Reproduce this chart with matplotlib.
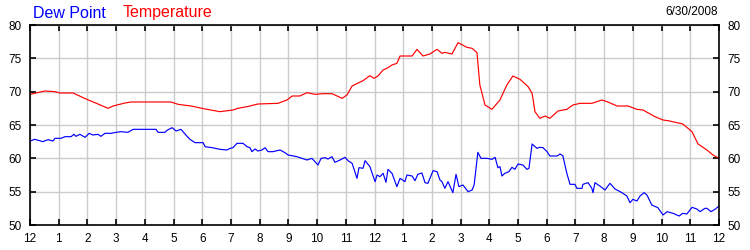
import matplotlib
matplotlib.use("Agg")
import matplotlib.pyplot as plt

plt.rcParams["font.family"] = ["Liberation Sans", "DejaVu Sans"]

# hours after midnight, 6/30/2008
temp_hours = [0.00, 0.52, 0.87, 1.04, 1.50, 1.95, 2.26, 2.72, 2.89, 3.31, 3.52, 4.91,
              5.16, 5.61, 6.10, 6.62, 7.07, 7.24, 7.56, 7.94, 8.64, 8.95, 9.13, 9.40,
              9.65, 9.93, 10.21, 10.52, 10.87, 11.04, 11.22, 11.60, 11.84, 11.98, 12.12,
              12.30, 12.47, 12.61, 12.78, 12.89, 13.31, 13.48, 13.69, 13.93, 14.18, 14.35,
              14.45, 14.70, 14.91, 15.22, 15.40, 15.57, 15.67, 15.85, 16.09, 16.37, 16.61,
              16.82, 17.07, 17.35, 17.49, 17.59, 17.76, 17.94, 18.11, 18.39, 18.70, 18.91,
              19.16, 19.57, 19.92, 20.10, 20.45, 20.83, 21.14, 21.35, 21.77, 22.05, 22.22,
              22.64, 22.74, 23.06, 23.27, 23.58, 23.79, 24.00]
temperature = [69.6, 70.1, 70.0, 69.8, 69.8, 68.9, 68.35, 67.5, 67.85, 68.3, 68.45, 68.45,
               68.1, 67.85, 67.4, 67.0, 67.25, 67.5, 67.75, 68.15, 68.25, 68.75, 69.35, 69.35,
               69.85, 69.6, 69.7, 69.7, 69.0, 69.5, 70.85, 71.65, 72.4, 72.0, 72.35,
               73.25, 73.6, 74.0, 74.25, 75.35, 75.35, 76.35, 75.35, 75.65, 76.35, 75.75,
               75.9, 75.65, 77.35, 76.65, 76.5, 75.85, 71.0, 68.0, 67.35, 68.75, 71.0,
               72.35, 71.85, 70.75, 69.75, 67.0, 66.0, 66.35, 66.0, 67.1, 67.35, 68.0,
               68.25, 68.25, 68.75, 68.5, 67.85, 67.85, 67.35, 67.25, 66.25, 65.75, 65.65,
               65.25, 65.15, 64.0, 62.15, 61.25, 60.5, 60.0]

dew_hours = [0.00, 0.17, 0.45, 0.63, 0.80, 0.87, 1.08, 1.22, 1.43, 1.53, 1.60, 1.74, 1.92,
             2.06, 2.19, 2.37, 2.47, 2.61, 2.82, 3.00, 3.17, 3.41, 3.59, 4.39, 4.46, 4.70,
             4.77, 4.95, 5.09, 5.26, 5.43, 5.57, 5.75, 6.03, 6.10, 6.34, 6.62, 6.86, 6.97,
             7.07, 7.21, 7.42, 7.56, 7.66, 7.73, 7.84, 7.94, 8.08, 8.19, 8.29, 8.46, 8.71,
             8.88, 8.99, 9.30, 9.47, 9.65, 9.82, 10.03, 10.14, 10.28, 10.38, 10.52, 10.62,
             10.80, 10.97, 11.08, 11.22, 11.39, 11.46, 11.60, 11.67, 11.84, 12.02, 12.09,
             12.19, 12.30, 12.40, 12.47, 12.61, 12.78, 12.89, 13.06, 13.13, 13.31, 13.41,
             13.51, 13.65, 13.76, 13.86, 14.04, 14.18, 14.28, 14.35, 14.45, 14.56, 14.73,
             14.84, 14.94, 15.08, 15.26, 15.40, 15.47, 15.60, 15.71, 15.92, 16.09, 16.20,
             16.30, 16.37, 16.44, 16.54, 16.68, 16.79, 16.89, 17.00, 17.17, 17.31, 17.38,
             17.49, 17.66, 17.76, 17.87, 18.01, 18.11, 18.36, 18.46, 18.56, 18.70, 18.81,
             18.98, 19.05, 19.23, 19.26, 19.44, 19.57, 19.61, 19.68, 19.85, 20.03, 20.20,
             20.38, 20.62, 20.79, 20.90, 21.00, 21.14, 21.25, 21.39, 21.49, 21.66, 21.87,
             22.05, 22.19, 22.40, 22.61, 22.74, 22.88, 23.06, 23.23, 23.34, 23.51, 23.58,
             23.72, 23.86, 24.00]
dew_point = [62.6, 62.85, 62.5, 62.8, 62.6, 63.0, 63.0, 63.25, 63.25, 63.6, 63.3, 63.6, 63.15,
             63.75, 63.5, 63.6, 63.3, 63.75, 63.75, 63.9, 64.0, 63.9, 64.35, 64.35, 63.9, 63.9,
             64.2, 64.6, 64.1, 64.35, 63.5, 62.85, 62.35, 62.35, 61.75, 61.6, 61.35, 61.25, 61.5,
             61.6, 62.25, 62.25, 61.75, 61.6, 61.0, 61.4, 61.1, 61.25, 61.6, 61.0, 61.0, 61.25,
             60.85, 60.5, 60.25, 60.0, 59.75, 60.0, 59.0, 60.0, 60.1, 59.9, 60.25, 59.4,
             59.75, 60.15, 59.65, 59.25, 57.0, 58.6, 58.5, 59.65, 58.75, 56.5, 57.5,
             57.25, 57.75, 56.4, 58.35, 57.75, 55.75, 57.0, 56.5, 57.5, 57.35, 56.65,
             57.6, 57.8, 56.35, 56.25, 58.15, 58.0, 56.75, 56.5, 55.5, 56.5, 54.85,
             57.6, 55.75, 56.0, 55.0, 55.25, 56.0, 60.9, 60.0, 60.0, 59.85, 60.15,
             58.6, 58.75, 57.35, 57.75, 58.0, 58.65, 58.35, 59.15, 59.0, 58.35, 58.5,
             62.15, 61.5, 61.65, 61.6, 61.0, 60.35, 60.35, 60.65, 60.4, 57.75, 56.1,
             56.1, 55.5, 55.5, 56.1, 56.35, 55.5, 54.85, 56.35, 55.85, 55.25, 56.25,
             55.4, 54.85, 54.35, 53.35, 53.85, 53.6, 54.35, 54.85, 54.5, 53.0, 52.6,
             51.5, 52.0, 51.75, 51.35, 51.75, 51.65, 52.65, 52.4, 52.0, 52.5, 52.5,
             52.0, 52.35, 52.85]

hour_ticks = list(range(25))
hour_labels = ["12", "1", "2", "3", "4", "5", "6", "7", "8", "9", "10", "11",
               "12", "1", "2", "3", "4", "5", "6", "7", "8", "9", "10", "11", "12"]
temp_ticks = [50, 55, 60, 65, 70, 75, 80]

fig = plt.figure(figsize=(7.5, 2.5), dpi=100)
ax = fig.add_axes([30 / 750, 25 / 250, 689 / 750, 200 / 250])

ax.plot(dew_hours, dew_point, color="#0000ff", lw=0.85)
ax.plot(temp_hours, temperature, color="#ff0000", lw=0.85)

ax.set_xlim(0, 24)
ax.set_ylim(50, 80)
ax.set_xticks(hour_ticks)
ax.set_xticklabels(hour_labels)
ax.set_yticks(temp_ticks)
ax.grid(True, color="#cccccc", lw=1.0)
ax.set_axisbelow(True)
for s in ax.spines.values():
    s.set_linewidth(1.2)
    s.set_color("black")
ax.tick_params(axis="both", direction="in", length=4, width=1.2, labelsize=8.5,
               top=True, right=True, labelright=True, colors="black")
ax.tick_params(axis="x", pad=6)
ax.tick_params(axis="y", pad=6)

fig.text(33 / 750, 1 - 13 / 250, "Dew Point", color="#0000ff", fontsize=11.5,
         ha="left", va="center")
fig.text(123 / 750, 1 - 13 / 250, "Temperature", color="#ff0000", fontsize=11.5,
         ha="left", va="center")
fig.text(718 / 750, 1 - 12 / 250, "6/30/2008", color="black", fontsize=8.5,
         ha="right", va="center")

fig.savefig("out.png", dpi=100)
